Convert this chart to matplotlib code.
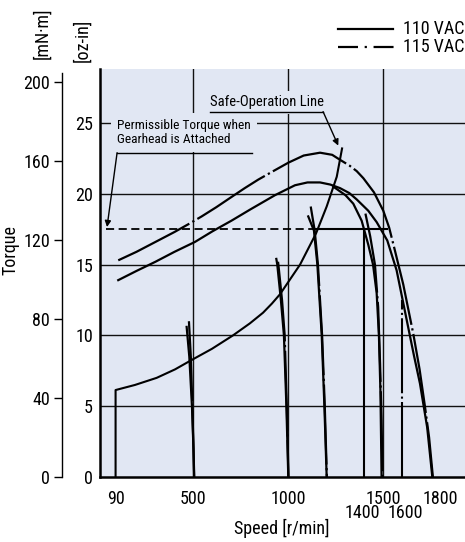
import matplotlib
matplotlib.use('Agg')
import matplotlib.pyplot as plt
from matplotlib import font_manager as fm
from matplotlib.lines import Line2D

# pick a condensed sans if one is installed, else plain Liberation Sans
names = {f.name for f in fm.fontManager.ttflist}
FONT, STRETCH, NARROW = None, 'normal', True
for cand in ['Roboto Condensed', 'Liberation Sans Narrow', 'Noto Sans Condensed', 'DejaVu Sans Condensed']:
    if cand in names:
        FONT = cand
        break
if FONT is None:
    cond = [f for f in fm.fontManager.ttflist
            if f.stretch in ('condensed', 'semi-condensed') and f.style == 'normal' and f.weight in (400, 'normal')]
    if cond:
        FONT, STRETCH = cond[0].name, cond[0].stretch
if FONT is None:
    FONT, NARROW = 'Liberation Sans', False
plt.rcParams['font.family'] = [FONT, 'DejaVu Sans']
plt.rcParams['font.stretch'] = STRETCH

FS = 13 if NARROW else 12
FA = 10.5 if NARROW else 9.2
FP = 9.6 if NARROW else 8.6

BG = '#e1e7f3'
INK = '#111111'

# ---- data (speed r/min, torque oz-in) ----
# max torque curve 115 VAC (dash-dot)
hump115_speed = [104, 200, 300, 400, 473, 543, 620, 692, 770, 841, 920, 1000, 1080, 1166, 1230,
                 1271, 1320, 1359, 1394, 1450, 1499, 1530, 1560, 1604, 1657, 1690, 1718, 1740, 1760]
hump115_torque = [15.3, 15.9, 16.6, 17.3, 17.85, 18.4, 19.05, 19.7, 20.4, 21.0, 21.6, 22.2, 22.7, 22.9, 22.75,
                  22.4, 22.0, 21.6, 21.1, 20.1, 18.8, 17.6, 16.0, 13.6, 10.1, 7.6, 5.0, 2.8, 0]
# max torque curve 110 VAC (solid)
hump110_speed = [104, 200, 300, 400, 508, 600, 700, 800, 929, 1034, 1100, 1166, 1220, 1271, 1320,
                 1359, 1420, 1464, 1520, 1569, 1622, 1660, 1692, 1730, 1757]
hump110_torque = [13.9, 14.55, 15.2, 15.9, 16.6, 17.35, 18.1, 18.9, 19.9, 20.6, 20.8, 20.8, 20.65, 20.4, 20.05,
                  19.6, 18.8, 18.0, 16.7, 14.6, 11.1, 8.6, 6.6, 3.5, 0]

# speed-setting drop lines
drop500_solid_speed = [464, 478, 492, 500, 503]
drop500_solid_torque = [10.6, 8.5, 5.0, 2.0, 0]
drop500_dash_speed = [476, 486, 494, 500, 504]
drop500_dash_torque = [11.0, 8.5, 5.0, 2.0, 0]

drop1000_solid_speed = [936, 941, 960, 976, 989, 999]
drop1000_solid_torque = [15.4, 15.0, 12.5, 10.0, 5.0, 0]
drop1000_dash_speed = [945, 950, 966, 980, 991, 1000]
drop1000_dash_torque = [15.2, 14.6, 12.5, 10.0, 5.0, 0]

drop1200_solid_speed = [1104, 1134, 1152, 1175, 1189, 1201]
drop1200_solid_torque = [18.4, 17.4, 15.0, 10.0, 5.0, 0]
drop1200_dash_speed = [1117, 1138, 1155, 1177, 1191, 1202]
drop1200_dash_torque = [19.1, 17.4, 15.0, 10.0, 5.0, 0]

drop1500_solid_speed = [1236, 1300, 1341, 1385, 1420, 1445, 1464, 1476, 1484, 1490]
drop1500_solid_torque = [20.5, 19.9, 19.3, 18.1, 16.4, 15.0, 13.0, 10.0, 6.0, 0]
drop1500_dash_speed = [1405, 1430, 1455, 1472, 1482, 1490, 1495]
drop1500_dash_torque = [18.6, 17.0, 15.0, 12.0, 8.0, 4.0, 0]

# safe-operation line
safe_speed = [90, 90, 192, 306, 403, 482, 597, 708, 797, 866, 913, 955, 1061, 1145, 1201, 1254, 1282]
safe_torque = [0, 6.14, 6.5, 7.0, 7.6, 8.2, 9.05, 10.0, 10.85, 11.6, 12.25, 12.9, 15.0, 17.2, 19.1, 21.2, 23.2]

# permissible torque with gearhead
perm_torque = 17.5
perm_dash_speed = [40, 1139]
perm_solid_speed = [1139, 1518]
limit1400 = (1400, 17.5)
limit1600 = (1600, 12.5)

xtick_main = [90, 500, 1000, 1500, 1800]
xtick_low = ['1400', '1600']
oz_ticks = [0, 5, 10, 15, 20, 25]
mnm_ticks = [0, 40, 80, 120, 160, 200]

DD = (36, 1.6, 1, 1.6)  # dash-dot pattern (lw units)

fig = plt.figure(figsize=(4.65, 5.42), dpi=100)
ax = fig.add_axes([100 / 465, 1 - 477 / 542, 365 / 465, 408 / 542])
ax.set_facecolor(BG)
ax.set_xlim(8, 1929)
ax.set_ylim(0, 28.81)
ax.spines['top'].set_visible(False)
ax.spines['right'].set_visible(False)
for sp in ['left', 'bottom']:
    ax.spines[sp].set_linewidth(1.8)
    ax.spines[sp].set_zorder(6)

ax.set_yticks(oz_ticks)
ax.tick_params(axis='y', length=0, pad=5, labelsize=FS)
ax.set_xticks(xtick_main)
ax.set_xticklabels([str(v) for v in xtick_main])
ax.tick_params(axis='x', length=0, labelsize=FS, pad=9)
# second row of speed labels
for lab, xs in zip(xtick_low, [1387, 1613]):
    ax.text(xs, -0.088, lab, transform=ax.get_xaxis_transform(), ha='center', va='center', fontsize=FS)

# grid
for t in oz_ticks[1:]:
    ax.axhline(t, color=INK, lw=1.0, zorder=1)
for s in [500, 1000, 1500]:
    ax.axvline(s, color=INK, lw=1.0, zorder=1)

# curves
ax.plot(hump115_speed, hump115_torque, color='k', lw=1.6, dashes=DD, zorder=3)
ax.plot(hump110_speed, hump110_torque, color='k', lw=1.6, zorder=3)
for sp, tq in [(drop500_solid_speed, drop500_solid_torque), (drop1000_solid_speed, drop1000_solid_torque),
               (drop1200_solid_speed, drop1200_solid_torque), (drop1500_solid_speed, drop1500_solid_torque)]:
    ax.plot(sp, tq, color='k', lw=1.6, zorder=3)
for sp, tq in [(drop500_dash_speed, drop500_dash_torque), (drop1000_dash_speed, drop1000_dash_torque),
               (drop1200_dash_speed, drop1200_dash_torque), (drop1500_dash_speed, drop1500_dash_torque)]:
    ax.plot(sp, tq, color='k', lw=1.6, dashes=DD, zorder=3)

ax.plot(safe_speed, safe_torque, color='k', lw=1.5, zorder=3)
ax.plot(perm_dash_speed, [perm_torque] * 2, color='k', lw=1.3, dashes=(4.5, 2.5), zorder=3)
ax.plot(perm_solid_speed, [perm_torque] * 2, color='k', lw=1.5, zorder=3)
ax.plot([limit1400[0]] * 2, [0, limit1400[1]], color='k', lw=1.5, zorder=3)
ax.plot([limit1600[0]] * 2, [0, limit1600[1]], color='k', lw=1.5, dashes=DD, zorder=3)

# annotations
ax.text(97, 24.3, 'Permissible Torque when\nGearhead is Attached', fontsize=FP, ha='left', va='center',
        linespacing=1.1, zorder=5, bbox=dict(boxstyle='square,pad=0.45', fc=BG, ec='none'))
ax.plot([808, 98], [22.9, 22.9], color='k', lw=1.0, zorder=6)
ax.annotate('', xy=(45, 17.65), xytext=(98, 22.9),
            arrowprops=dict(arrowstyle='-|>', color='k', lw=1.0, mutation_scale=9, shrinkA=0, shrinkB=0),
            zorder=6)

ax.text(587, 26.45, 'Safe-Operation Line', fontsize=FA, ha='left', va='center', zorder=5,
        bbox=dict(boxstyle='square,pad=0.3', fc=BG, ec='none'))
ax.plot([587, 1182], [25.8, 25.8], color='k', lw=1.0, zorder=6)
ax.annotate('', xy=(1262, 23.4), xytext=(1182, 25.8),
            arrowprops=dict(arrowstyle='-|>', color='k', lw=1.0, mutation_scale=9, shrinkA=0, shrinkB=0),
            zorder=6)

# mN·m axis
ax2 = fig.add_axes([62 / 465, 1 - 477 / 542, 0.0001, 404 / 542])
ax2.patch.set_visible(False)
for sp in ['top', 'right', 'bottom']:
    ax2.spines[sp].set_visible(False)
ax2.spines['left'].set_linewidth(1.0)
ax2.set_xticks([])
ax2.set_ylim(0, 404 / 1.975)
ax2.set_yticks(mnm_ticks)
ax2.tick_params(axis='y', length=5.5, width=1.0, pad=3, labelsize=FS)

# axis labels
fig.text(42 / 465, 1 - 33 / 542, '[mN·m]', rotation=90, ha='center', va='center', fontsize=FS)
fig.text(82 / 465, 1 - 40 / 542, '[oz-in]', rotation=90, ha='center', va='center', fontsize=FS)
fig.text(10 / 465, 1 - 250 / 542, 'Torque', rotation=90, ha='center', va='center', fontsize=FS)
fig.text(282 / 465, 1 - 528 / 542, 'Speed [r/min]', ha='center', va='center', fontsize=FS)

# legend
fig.add_artist(Line2D([338 / 465, 393 / 465], [1 - 29 / 542] * 2, color='k', lw=1.6,
                      transform=fig.transFigure))
fig.add_artist(Line2D([338 / 465, 397 / 465], [1 - 47 / 542] * 2, color='k', lw=1.6,
                      dashes=(9, 3, 1, 3), transform=fig.transFigure))
fig.text(403 / 465, 1 - 29 / 542, '110 VAC', ha='left', va='center', fontsize=FS)
fig.text(403 / 465, 1 - 47 / 542, '115 VAC', ha='left', va='center', fontsize=FS)

fig.savefig('out.png', dpi=100)
